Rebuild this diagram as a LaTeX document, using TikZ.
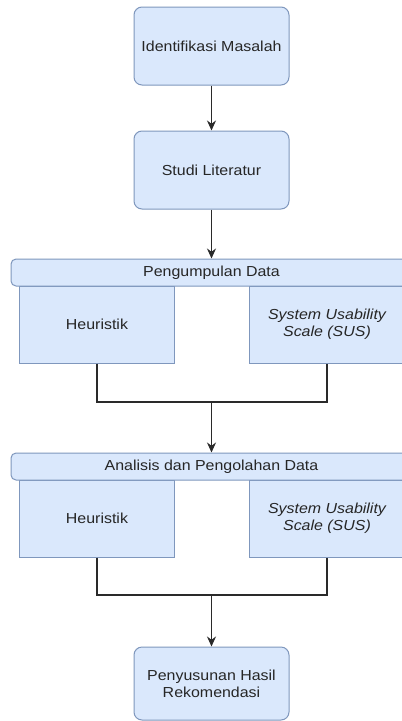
\documentclass[tikz,border=0pt]{standalone}
\usepackage{fontspec}
\setmainfont{Liberation Sans}[FakeStretch=1.1]
\usetikzlibrary{arrows.meta}
\definecolor{boxfill}{HTML}{DAE8FC}
\definecolor{boxdraw}{HTML}{7F97BD}
\definecolor{linecol}{HTML}{2A2A2A}
\tikzset{
  x=1pt, y=-1pt,
  base/.style={draw=boxdraw, fill=boxfill, line width=1pt, inner sep=2pt, align=center,
    font=\fontsize{14.5}{17}\selectfont, text=black!85},
  roundbox/.style={base, rounded corners=8pt, minimum width=155pt, minimum height=78pt},
  header/.style={base, rounded corners=5pt, minimum width=401pt, minimum height=27pt},
  subbox/.style={base, minimum width=155pt, minimum height=77pt},
  conn/.style={draw=linecol, line width=1.2pt},
  arr/.style={conn, -{Stealth[length=10pt,width=9pt]}}
}
\begin{document}
\begin{tikzpicture}
\useasboundingbox (0,0) rectangle (402,721);
\clip (0,0) rectangle (402,721);
\fill[white] (0,0) rectangle (402,721);
\node[roundbox] (idm) at (211.5,46) {Identifikasi Masalah};
\node[roundbox] (stl) at (211.5,170) {Studi Literatur};
\node[subbox] (h1) at (97,324.5) {Heuristik};
\node[subbox] (s1) at (327,324.5) {\itshape System Usability\\\itshape Scale (SUS)};
\node[header] (pd) at (211.5,272.5) {Pengumpulan Data};
\node[subbox] (h2) at (97,518.5) {Heuristik};
\node[subbox] (s2) at (327,518.5) {\itshape System Usability\\\itshape Scale (SUS)};
\node[header] (ap) at (211.5,466.5) {Analisis dan Pengolahan Data};
\node[roundbox, minimum height=73pt] (phr) at (211.5,683.5) {Penyusunan Hasil\\Rekomendasi};
\coordinate (j1) at (211.5,402);
\coordinate (j2) at (211.5,595);
\draw[arr] (idm) -- (stl);
\draw[arr] (stl) -- (pd);
\draw[conn] (h1.south) |- (j1) -| (s1.south);
\draw[arr] (j1) -- (ap);
\draw[conn] (h2.south) |- (j2) -| (s2.south);
\draw[arr] (j2) -- (phr);
\end{tikzpicture}
\end{document}
